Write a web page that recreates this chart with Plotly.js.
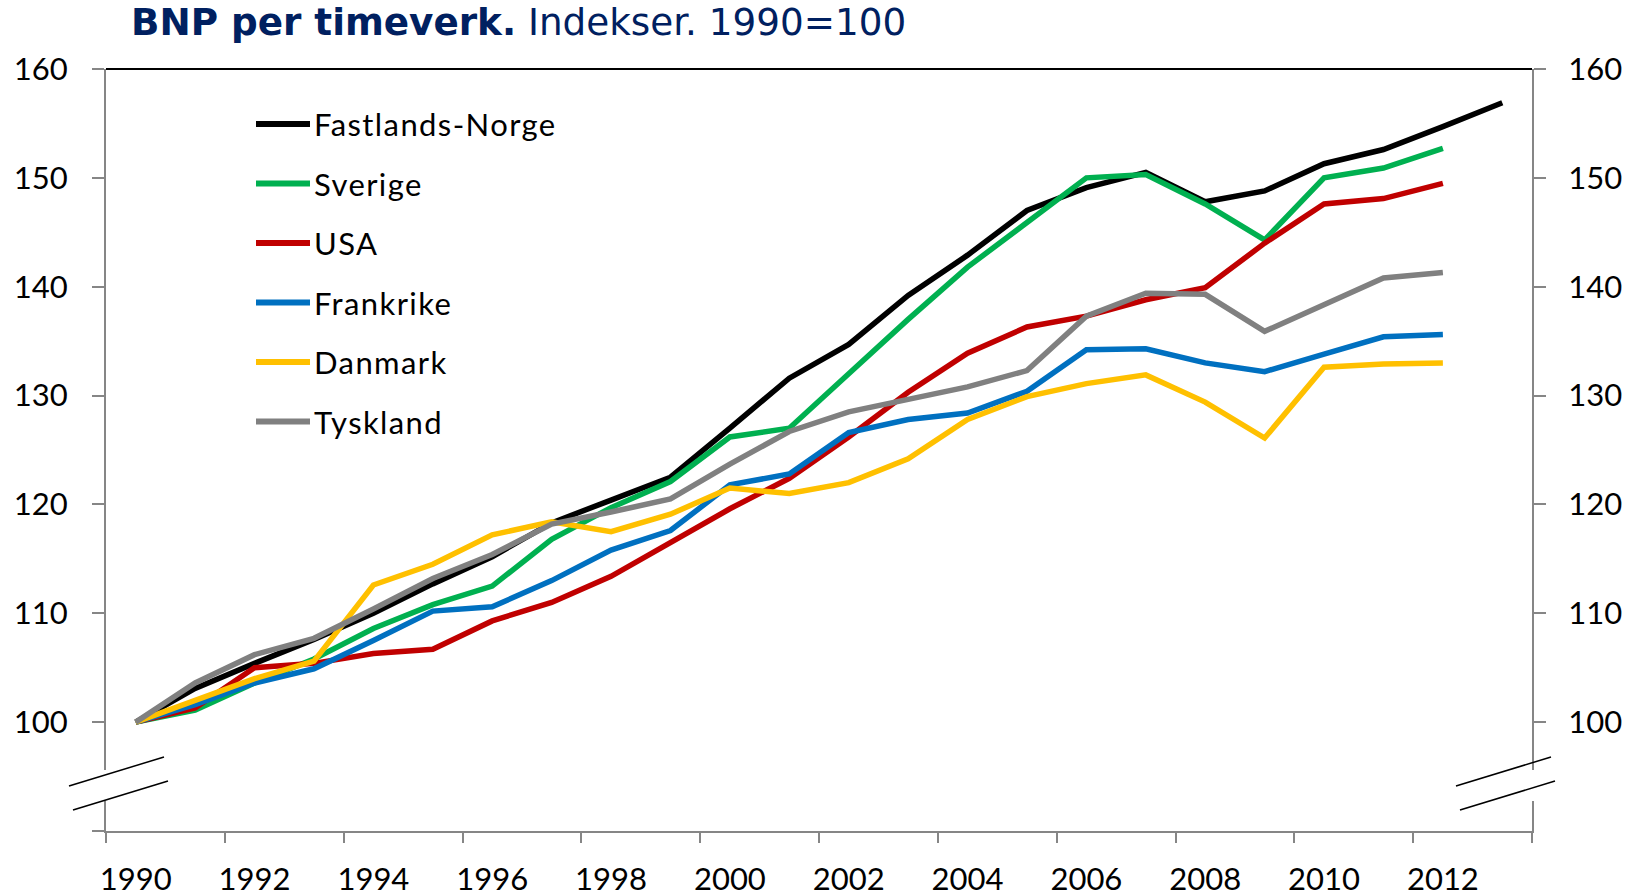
<!DOCTYPE html>
<html>
<head>
<meta charset="utf-8">
<script src="https://cdn.plot.ly/plotly-3.0.1.min.js"></script>
<style>
  html, body { margin: 0; padding: 0; background: #ffffff; }
  #chart { width: 1643px; height: 896px; }
  .annotation-text { letter-spacing: 1.4px; }
</style>
</head>
<body>
<div id="chart"></div>
<script>
// ---------- DATA ----------
const years = [1990, 1991, 1992, 1993, 1994, 1995, 1996, 1997, 1998, 1999, 2000, 2001,
               2002, 2003, 2004, 2005, 2006, 2007, 2008, 2009, 2010, 2011, 2012, 2013];
const seriesNames = ["Fastlands-Norge", "Sverige", "USA", "Frankrike", "Danmark", "Tyskland"];
const fastlandsNorge = [100, 103.1, 105.4, 107.6, 110.0, 112.7, 115.2, 118.3, 120.4, 122.5, 127.0, 131.6,
                        134.7, 139.2, 142.9, 147.0, 149.1, 150.5, 147.8, 148.8, 151.3, 152.6, 154.7, 156.9];
const sverige   = [100, 101.1, 103.6, 105.8, 108.6, 110.8, 112.5, 116.8, 119.7, 122.1, 126.2, 127.0,
                   132.0, 137.0, 141.8, 145.9, 150.0, 150.3, 147.6, 144.3, 150.0, 150.9, 152.7];
const usa       = [100, 101.3, 105.0, 105.4, 106.3, 106.7, 109.3, 111.0, 113.4, 116.5, 119.6, 122.4,
                   126.2, 130.3, 133.9, 136.3, 137.3, 138.8, 139.9, 144.0, 147.6, 148.1, 149.5];
const frankrike = [100, 101.6, 103.6, 104.9, 107.5, 110.2, 110.6, 113.0, 115.8, 117.6, 121.8, 122.8,
                   126.6, 127.8, 128.4, 130.4, 134.2, 134.3, 133.0, 132.2, 133.8, 135.4, 135.6];
const danmark   = [100, 102.0, 104.0, 105.6, 112.6, 114.5, 117.2, 118.4, 117.5, 119.1, 121.5, 121.0,
                   122.0, 124.2, 127.8, 129.9, 131.1, 131.9, 129.4, 126.1, 132.6, 132.9, 133.0];
const tyskland  = [100, 103.6, 106.2, 107.7, 110.4, 113.2, 115.4, 118.2, 119.3, 120.5, 123.7, 126.7,
                   128.5, 129.7, 130.8, 132.3, 137.3, 139.4, 139.3, 135.9, 138.3, 140.8, 141.3];
const xTickLabels = ["1990", "1992", "1994", "1996", "1998", "2000", "2002", "2004", "2006", "2008", "2010", "2012"];
const yTickLabels = ["100", "110", "120", "130", "140", "150", "160"];

// ---------- STYLE ----------
const colors = ["#000000", "#00B050", "#C00000", "#0070C0", "#FFC000", "#808080"];
const allSeries = [fastlandsNorge, sverige, usa, frankrike, danmark, tyskland];
const axisGray = "#868686";
const W = 1643, H = 896;
const M = { l: 106, r: 111, t: 69, b: 65 };
const plotW = W - M.l - M.r, plotH = H - M.t - M.b;
const px2x = px => (px - M.l) / plotW;           // pixel -> paper x
const px2y = py => 1 - (py - M.t) / plotH;       // pixel -> paper y
const font = "Lato, 'Open Sans', sans-serif";

const traces = allSeries.map((vals, i) => ({
  type: "scatter", mode: "lines",
  x: years.slice(0, vals.length), y: vals,
  name: seriesNames[i],
  line: { color: colors[i], width: 5.5, shape: "linear" },
  showlegend: false, hoverinfo: "x+y+name"
}));
// invisible trace on the second x axis so that its boundary ticks are drawn
traces.push({ type: "scatter", mode: "lines", x: [years[0]], y: [100], xaxis: "x2", yaxis: "y2",
              line: { color: "rgba(0,0,0,0)" }, showlegend: false, hoverinfo: "skip" });

const yTickVals = yTickLabels.map(Number);
const xTickVals = xTickLabels.map(Number);
const xMin = years[0] - 0.5, xMax = years[years.length - 1] + 0.5;
const boundaryTicks = [];
for (let v = xMin; v <= xMax + 1e-9; v += 2) boundaryTicks.push(v);

// ---------- LEGEND (custom, built from names/colors) ----------
const shapes = [];
const annotations = [];
const legTop = 124, legStep = 59.5, legX0 = 256, legX1 = 310, legText = 312;
seriesNames.forEach((nm, i) => {
  const py = legTop + i * legStep;
  shapes.push({ type: "line", xref: "paper", yref: "paper",
    x0: px2x(legX0), x1: px2x(legX1), y0: px2y(py), y1: px2y(py),
    line: { color: colors[i], width: 6 }, layer: "above" });
  annotations.push({ xref: "paper", yref: "paper", x: px2x(legText), y: px2y(py),
    xanchor: "left", yanchor: "middle", align: "left", text: nm, showarrow: false,
    font: { family: font, size: 31, color: "#000000" } });
});

// top border
shapes.push({ type: "line", xref: "paper", yref: "paper", x0: 0, x1: 1, y0: 1, y1: 1,
  line: { color: "#000000", width: 2 }, layer: "above" });

// axis break marks
function breakMarks(cx, dx) {
  shapes.push({ type: "rect", xref: "paper", yref: "paper",
    x0: px2x(cx - 6), x1: px2x(cx + 6), y0: px2y(801), y1: px2y(770),
    line: { width: 0 }, fillcolor: "#ffffff", layer: "above" });
  shapes.push({ type: "line", xref: "paper", yref: "paper",
    x0: px2x(cx + dx), y0: px2y(786), x1: px2x(cx + dx + 95), y1: px2y(757),
    line: { color: "#000000", width: 1.5 }, layer: "above" });
  shapes.push({ type: "line", xref: "paper", yref: "paper",
    x0: px2x(cx + dx + 4), y0: px2y(810), x1: px2x(cx + dx + 99), y1: px2y(781),
    line: { color: "#000000", width: 1.5 }, layer: "above" });
}
breakMarks(M.l, -37);
breakMarks(W - M.r, -76);

const tickFont = { family: font, size: 31, color: "#000000" };

const layout = {
  width: W, height: H,
  margin: M,
  paper_bgcolor: "#ffffff", plot_bgcolor: "#ffffff",
  showlegend: false,
  title: {
    text: "<b>BNP per timeverk.</b> Indekser. 1990=100",
    font: { family: "'DejaVu Sans', Verdana, sans-serif", size: 37.3, color: "#002060" },
    xref: "container", yref: "container", x: 131 / W, xanchor: "left",
    y: 1 - 22 / H, yanchor: "middle"
  },
  xaxis: {
    range: [xMin, xMax], tickmode: "array", tickvals: xTickVals, ticktext: xTickLabels,
    ticks: "outside", ticklen: 11, tickcolor: "rgba(0,0,0,0)",
    ticklabelstandoff: 9,
    showline: true, linecolor: axisGray, linewidth: 2,
    showgrid: false, zeroline: false, tickfont: tickFont, fixedrange: true
  },
  xaxis2: {
    overlaying: "x", anchor: "y", side: "bottom", range: [xMin, xMax],
    tickmode: "array", tickvals: boundaryTicks, showticklabels: false,
    ticks: "outside", ticklen: 11, tickwidth: 2, tickcolor: axisGray,
    showline: false, showgrid: false, zeroline: false, fixedrange: true
  },
  yaxis: {
    range: [90, 160], tickmode: "array", tickvals: [90].concat(yTickVals), ticktext: [""].concat(yTickLabels),
    ticks: "outside", ticklen: 12, tickwidth: 2, tickcolor: axisGray,
    ticklabelstandoff: 18,
    showline: true, linecolor: axisGray, linewidth: 2,
    showgrid: false, zeroline: false, tickfont: tickFont, fixedrange: true
  },
  yaxis2: {
    overlaying: "y", side: "right", anchor: "x", range: [90, 160],
    tickmode: "array", tickvals: yTickVals, ticktext: yTickLabels,
    ticks: "outside", ticklen: 12, tickwidth: 2, tickcolor: axisGray,
    ticklabelstandoff: 16,
    showline: true, linecolor: axisGray, linewidth: 2,
    showgrid: false, zeroline: false, tickfont: tickFont, fixedrange: true
  },
  shapes: shapes,
  annotations: annotations
};

Plotly.newPlot("chart", traces, layout, { displayModeBar: false, staticPlot: true });
</script>
</body>
</html>
